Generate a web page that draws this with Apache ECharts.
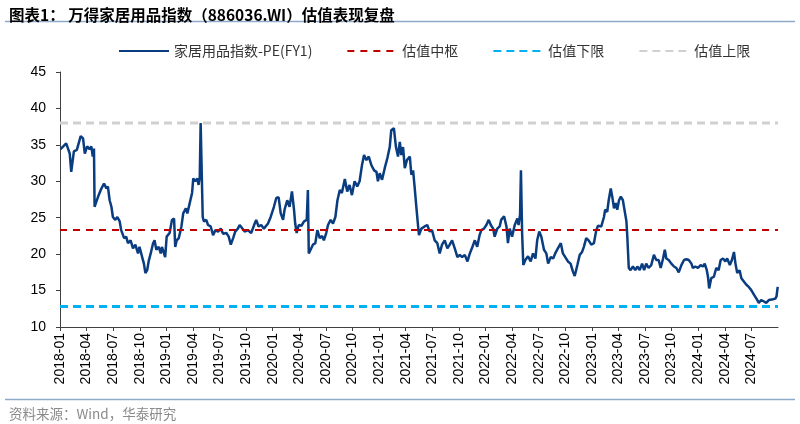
<!DOCTYPE html>
<html>
<head>
<meta charset="utf-8">
<script src="https://cdn.jsdelivr.net/npm/echarts@6/dist/echarts.min.js"></script>
<style>html,body{margin:0;padding:0;background:#fff;}#c{width:800px;height:424px;}</style>
</head>
<body>
<div id="c"></div>
<script>
const dates = [
'2018-01-03','2018-01-22','2018-02-04','2018-02-09','2018-02-18','2018-02-28','2018-03-11','2018-03-19','2018-03-25','2018-04-03',
'2018-04-11','2018-04-17','2018-04-22','2018-04-26','2018-04-28','2018-05-10','2018-05-21','2018-05-30','2018-06-08','2018-06-13',
'2018-06-19','2018-06-25','2018-06-30','2018-07-08','2018-07-15','2018-07-23','2018-07-28','2018-08-08','2018-08-15','2018-08-21',
'2018-08-30','2018-09-08','2018-09-16','2018-09-25','2018-09-30','2018-10-09','2018-10-15','2018-10-20','2018-10-26','2018-11-01',
'2018-11-08','2018-11-16','2018-11-21','2018-11-27','2018-12-05','2018-12-12','2018-12-16','2018-12-23','2018-12-27','2019-01-02',
'2019-01-12','2019-01-20','2019-01-27','2019-02-01','2019-02-06','2019-02-13','2019-02-22','2019-02-28','2019-03-07','2019-03-12',
'2019-03-20','2019-03-28','2019-04-02','2019-04-09','2019-04-16','2019-04-20','2019-04-24','2019-04-27','2019-05-01','2019-05-04',
'2019-05-08','2019-05-16','2019-05-22','2019-06-01','2019-06-09','2019-06-17','2019-06-26','2019-07-05','2019-07-13','2019-07-24',
'2019-08-02','2019-08-09','2019-08-17','2019-08-24','2019-09-03','2019-09-09','2019-09-15','2019-09-26','2019-10-07','2019-10-18',
'2019-10-30','2019-11-05','2019-11-13','2019-11-22','2019-12-01','2019-12-15','2019-12-24','2020-01-05','2020-01-13','2020-01-21',
'2020-01-28','2020-02-06','2020-02-11','2020-02-20','2020-02-28','2020-03-06','2020-03-13','2020-03-17','2020-03-22','2020-03-29',
'2020-04-08','2020-04-17','2020-04-26','2020-04-30','2020-05-03','2020-05-09','2020-05-17','2020-05-25','2020-06-02','2020-06-10',
'2020-06-18','2020-06-24','2020-07-02','2020-07-08','2020-07-17','2020-07-25','2020-08-03','2020-08-10','2020-08-18','2020-08-25',
'2020-09-05','2020-09-13','2020-09-21','2020-09-29','2020-10-08','2020-10-17','2020-10-25','2020-11-03','2020-11-10','2020-11-18',
'2020-11-26','2020-12-05','2020-12-14','2020-12-22','2020-12-27','2021-01-03','2021-01-11','2021-01-20','2021-01-29','2021-02-07',
'2021-02-12','2021-02-21','2021-02-28','2021-03-05','2021-03-11','2021-03-16','2021-03-22','2021-03-28','2021-04-05','2021-04-15',
'2021-04-20','2021-04-26','2021-05-01','2021-05-07','2021-05-13','2021-05-16','2021-05-24','2021-06-05','2021-06-14','2021-06-22',
'2021-06-30','2021-07-09','2021-07-18','2021-07-26','2021-08-04','2021-08-13','2021-08-22','2021-08-30','2021-09-08','2021-09-17',
'2021-09-26','2021-10-04','2021-10-12','2021-10-21','2021-10-30','2021-11-08','2021-11-15','2021-11-25','2021-12-03','2021-12-11',
'2021-12-17','2021-12-26','2022-01-04','2022-01-12','2022-01-19','2022-01-27','2022-02-02','2022-02-11','2022-02-19','2022-02-24',
'2022-03-04','2022-03-12','2022-03-17','2022-03-23','2022-03-31','2022-04-10','2022-04-19','2022-04-23','2022-04-28','2022-05-01',
'2022-05-05','2022-05-09','2022-05-16','2022-05-25','2022-06-04','2022-06-12','2022-06-20','2022-06-26','2022-07-03','2022-07-10',
'2022-07-19','2022-07-27','2022-08-03','2022-08-12','2022-08-20','2022-08-27','2022-09-06','2022-09-16','2022-09-23','2022-10-01',
'2022-10-10','2022-10-19','2022-10-27','2022-11-03','2022-11-12','2022-11-20','2022-11-28','2022-12-04','2022-12-12','2022-12-20',
'2022-12-29','2023-01-08','2023-01-16','2023-01-22','2023-02-03','2023-02-12','2023-02-16','2023-02-23','2023-02-28','2023-03-05',
'2023-03-10','2023-03-16','2023-03-22','2023-03-27','2023-04-03','2023-04-09','2023-04-16','2023-04-22','2023-04-28','2023-05-01',
'2023-05-06','2023-05-12','2023-05-20','2023-05-28','2023-06-05','2023-06-13','2023-06-21','2023-06-28','2023-07-05','2023-07-13',
'2023-07-22','2023-08-01','2023-08-09','2023-08-17','2023-08-24','2023-09-02','2023-09-08','2023-09-13','2023-09-21','2023-09-30',
'2023-10-09','2023-10-17','2023-10-25','2023-11-04','2023-11-13','2023-11-21','2023-11-29','2023-12-08','2023-12-13','2023-12-21',
'2023-12-30','2024-01-09','2024-01-17','2024-01-23','2024-01-30','2024-02-04','2024-02-08','2024-02-15','2024-02-24','2024-03-02',
'2024-03-10','2024-03-17','2024-03-25','2024-04-03','2024-04-09','2024-04-18','2024-04-25','2024-05-02','2024-05-07','2024-05-13',
'2024-05-21','2024-05-27','2024-06-06','2024-06-14','2024-06-22','2024-06-30','2024-07-10','2024-07-18','2024-07-26','2024-08-04',
'2024-08-14','2024-08-21','2024-08-30','2024-09-06','2024-09-14','2024-09-22','2024-09-26','2024-09-30'
];
const pe = [
34.4,35.2,33.8,31.3,34.1,34.3,36.2,35.9,33.8,34.8,
34.4,34.8,33.4,34.5,26.5,27.9,29.0,29.7,29.0,29.3,
27.4,26.5,25.1,24.7,25.1,24.5,23.3,22.2,22.4,21.5,
21.9,20.8,21.3,20.1,21.0,19.6,18.7,17.4,17.8,19.0,
20.1,21.5,21.9,20.6,21.0,20.1,21.0,20.1,19.6,22.4,
22.9,24.7,24.9,21.0,21.9,22.2,23.8,25.6,26.3,25.6,
27.0,28.4,30.4,30.0,30.4,29.5,30.6,38.0,38.0,25.1,
24.5,24.7,24.0,23.8,22.6,23.3,23.1,23.5,22.8,22.9,
22.4,21.3,22.2,23.1,23.5,24.0,23.8,23.1,23.3,22.9,
24.2,24.7,23.8,24.0,23.5,24.2,25.1,26.5,27.7,27.8,
25.6,24.7,26.1,27.4,26.5,28.6,26.1,24.2,22.9,24.0,
23.9,24.5,24.7,28.8,20.1,19.9,21.3,21.5,23.3,22.2,
22.5,21.9,22.9,24.0,24.7,24.2,25.1,27.4,28.8,28.4,
30.3,28.6,29.5,28.1,30.0,29.3,30.0,32.2,33.6,32.9,
33.4,32.2,31.5,31.3,30.0,31.1,30.2,31.8,33.2,34.7,
37.0,37.3,34.7,33.4,35.4,33.6,34.7,31.8,32.9,33.4,
30.9,31.5,29.3,26.5,23.8,22.6,23.5,23.8,24.0,23.1,
23.3,21.9,21.5,20.1,21.3,21.9,20.8,21.3,21.9,20.8,
19.6,19.9,19.6,19.9,19.0,20.1,20.8,21.9,21.0,22.6,
23.3,23.5,24.0,24.7,24.0,23.5,22.4,23.5,23.8,24.7,
25.2,23.8,21.5,23.5,22.4,24.0,24.9,24.0,25.4,31.5,
22.9,18.5,19.2,19.7,19.0,20.1,19.4,21.9,23.1,22.4,
20.6,20.1,18.7,19.6,19.4,20.1,20.8,21.5,20.1,19.6,
19.0,18.7,17.6,17.0,18.5,19.9,20.3,21.0,22.2,21.9,
21.3,21.5,23.3,23.9,23.8,25.1,26.1,25.8,27.4,29.0,
27.9,26.3,27.0,26.1,27.4,27.9,27.4,27.2,24.5,22.4,
18.1,17.8,18.3,17.8,18.3,17.8,18.7,17.8,18.7,18.1,
18.5,19.9,19.2,19.2,18.1,19.4,20.6,19.4,19.2,18.7,
18.3,18.1,17.5,18.5,19.2,19.3,19.2,18.7,18.1,18.3,
18.1,18.5,18.3,18.7,17.8,16.9,15.3,16.7,16.9,18.1,
17.8,19.2,19.4,19.0,19.4,18.5,19.2,20.3,18.7,17.4,
17.8,16.7,16.2,15.8,15.5,15.1,14.4,13.9,13.3,13.7,
13.5,13.3,13.7,13.9,13.8,13.9,14.2,15.5
];
const peMid = 23.3;
const peLow = 12.8;
const peHigh = 38.0;
const tickLabels = ['2018-01','2018-04','2018-07','2018-10','2019-01','2019-04','2019-07','2019-10',
'2020-01','2020-04','2020-07','2020-10','2021-01','2021-04','2021-07','2021-10',
'2022-01','2022-04','2022-07','2022-10','2023-01','2023-04','2023-07','2023-10',
'2024-01','2024-04','2024-07','2024-10'];
const seriesNames = ['家居用品指数-PE(FY1)','估值中枢','估值下限','估值上限'];

function monthPos(s){
  const p = s.split('-').map(Number);
  return (p[0]-2018)*12 + (p[1]-1) + (p[2]-1)/30;
}
const xMin = 0, xMax = (tickLabels.length-1)*3;
const mainData = dates.map((d,i)=>[monthPos(d), pe[i]]);
const flat = v => [[xMin, v],[xMax, v]];

const chart = echarts.init(document.getElementById('c'));
const cjk = '"Noto Sans CJK SC","Liberation Sans",sans-serif';
chart.setOption({
  animation:false,
  backgroundColor:'#fff',
  title:[
    {text:'图表1： 万得家居用品指数（886036.WI）估值表现复盘', left:4, top:2,
     textStyle:{fontFamily:cjk, fontSize:15.5, fontWeight:'bold', color:'#000'}},
    {text:'资料来源：Wind，华泰研究', left:4, top:402,
     textStyle:{fontFamily:cjk, fontSize:13.5, fontWeight:'normal', color:'#8a8a8a'}}
  ],
  graphic:[
    {type:'line', shape:{x1:5,y1:21.5,x2:795,y2:21.5}, style:{stroke:'#8eaacb', lineWidth:1.5}},
    {type:'line', shape:{x1:5,y1:399.5,x2:795,y2:399.5}, style:{stroke:'#8eaacb', lineWidth:1.5}}
  ],
  legend:{
    left:118, top:44, padding:0, itemWidth:50, itemHeight:10, itemGap:34,
    data:seriesNames,
    itemStyle:{opacity:0},
    textStyle:{fontFamily:cjk, fontSize:14, color:'#333'}
  },
  grid:{left:60, right:22, top:72, bottom:97},
  xAxis:{
    type:'value', min:xMin, max:xMax, interval:3,
    axisLine:{lineStyle:{color:'#404040', width:1}},
    axisTick:{show:true, length:4, lineStyle:{color:'#404040'}},
    splitLine:{show:false},
    axisLabel:{rotate:90, showMaxLabel:false, margin:6, fontFamily:'"Liberation Sans",Arial,sans-serif', fontSize:14, color:'#000',
      formatter:v=>tickLabels[Math.round(v/3)]}
  },
  yAxis:{
    type:'value', min:10, max:45, interval:5,
    axisLine:{show:true, lineStyle:{color:'#404040', width:1}},
    axisTick:{show:true, length:4, lineStyle:{color:'#404040'}},
    splitLine:{show:false},
    axisLabel:{margin:14, fontFamily:'"Liberation Sans",Arial,sans-serif', fontSize:14, color:'#000'}
  },
  series:[
    {name:seriesNames[0], type:'line', data:mainData, symbol:'none',
     lineStyle:{color:'#0a3d80', width:2.5}, itemStyle:{color:'#0a3d80'}},
    {name:seriesNames[1], type:'line', data:flat(peMid), symbol:'none',
     lineStyle:{color:'#c00000', width:2, type:[7,6]}, itemStyle:{color:'#c00000'}},
    {name:seriesNames[2], type:'line', data:flat(peLow), symbol:'none',
     lineStyle:{color:'#00b0f0', width:3, type:[8,5]}, itemStyle:{color:'#00b0f0'}},
    {name:seriesNames[3], type:'line', data:flat(peHigh), symbol:'none',
     lineStyle:{color:'#d0d0d0', width:3, type:[8,5]}, itemStyle:{color:'#d0d0d0'}}
  ]
});
</script>
</body>
</html>
